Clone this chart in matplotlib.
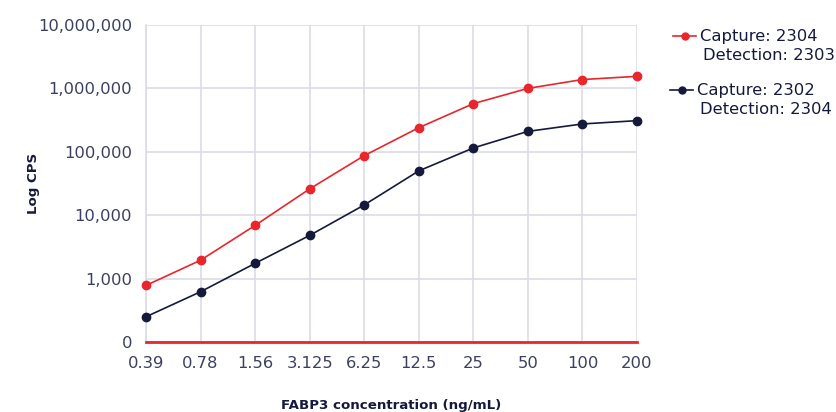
import matplotlib
matplotlib.use("Agg")
import matplotlib.pyplot as plt
from matplotlib.lines import Line2D
from matplotlib.ticker import FixedLocator, FixedFormatter

plt.rcParams['font.family'] = ['DejaVu Sans']

concentrations = ['0.39', '0.78', '1.56', '3.125', '6.25', '12.5', '25', '50', '100', '200']
cps_2304_2303 = [780, 1950, 6900, 26000, 87000, 240000, 575000, 1000000, 1380000, 1550000]
cps_2302_2304 = [250, 620, 1740, 4800, 14500, 50000, 115000, 210000, 275000, 310000]

y_ticks = [100, 1000, 10000, 100000, 1000000, 10000000]
y_labels = ['0', '1,000', '10,000', '100,000', '1,000,000', '10,000,000']

red = '#e8262c'
navy = '#151a3d'
grid = '#dcdce6'
tick_col = '#3b4062'

fig = plt.figure(figsize=(8.37, 4.12), dpi=100)
ax = fig.add_axes([146 / 837, 1 - 342 / 412, (637 - 146) / 837, (342 - 25) / 412])

x = list(range(len(concentrations)))
ax.plot(x, cps_2304_2303, color=red, lw=1.2, marker='o', ms=6, zorder=4, clip_on=False)
ax.plot(x, cps_2302_2304, color=navy, lw=1.2, marker='o', ms=6, zorder=4, clip_on=False)

ax.set_yscale('log')
ax.set_ylim(100, 10000000)
ax.set_xlim(0, len(concentrations) - 1)
ax.yaxis.set_major_locator(FixedLocator(y_ticks))
ax.yaxis.set_major_formatter(FixedFormatter(y_labels))
ax.yaxis.set_minor_locator(FixedLocator([]))
ax.set_xticks(x)
ax.set_xticklabels(concentrations)

ax.grid(True, color=grid, lw=1.2)
ax.set_axisbelow(True)
for s in ['top', 'right']:
    ax.spines[s].set_visible(False)
ax.spines['left'].set_color(grid)
ax.spines['left'].set_linewidth(1.2)
ax.spines['bottom'].set_color(red)
ax.spines['bottom'].set_linewidth(2)
ax.spines['bottom'].set_zorder(3)

ax.tick_params(axis='both', length=0, labelsize=11.8, labelcolor=tick_col)
ax.tick_params(axis='y', pad=10)
ax.tick_params(axis='x', pad=10)

ax.set_xlabel('FABP3 concentration (ng/mL)', fontsize=9.6, fontweight='bold', color=navy)
ax.xaxis.set_label_coords(0.5, (342 - 405) / 317)
ax.xaxis.label.set_va('center')
ax.set_ylabel('Log CPS', fontsize=9.6, fontweight='bold', color=navy)
ax.yaxis.set_label_coords((33 - 146) / 491, 0.5)
ax.yaxis.label.set_va('center')

# legend on the right, handle aligned with first text line
legend_items = [
    (red, 'Capture: 2304', 'Detection: 2303', 36, 673),
    (navy, 'Capture: 2302', 'Detection: 2304', 90, 670),
]
for col, line1, line2, ypx, xpx in legend_items:
    yf = 1 - ypx / 412
    fig.add_artist(Line2D([xpx / 837, (xpx + 23) / 837], [yf, yf], color=col, lw=1.2,
                          transform=fig.transFigure))
    fig.add_artist(Line2D([(xpx + 12) / 837], [yf], color=col, marker='o', ms=5,
                          transform=fig.transFigure))
    fig.text((xpx + 27) / 837, yf, line1, fontsize=11.8, color=navy, va='center')
    fig.text((xpx + 30) / 837, 1 - (ypx + 20) / 412, line2, fontsize=11.8, color=navy, va='center')

fig.savefig('out.png', dpi=100)
